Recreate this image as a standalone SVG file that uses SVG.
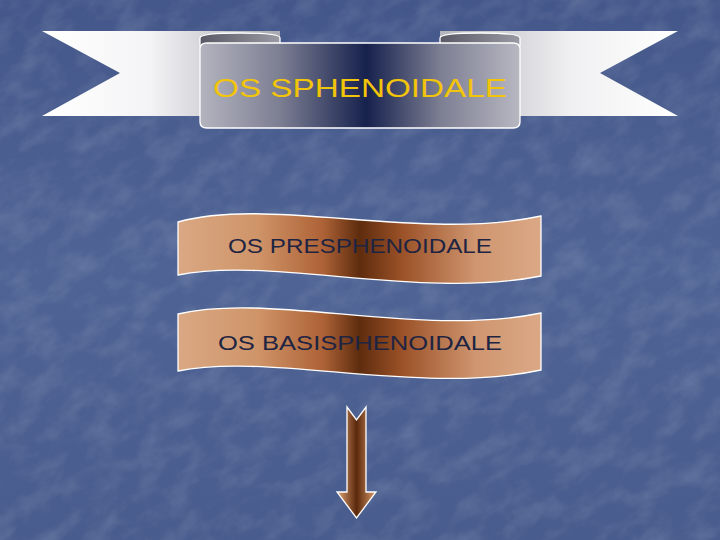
<svg xmlns="http://www.w3.org/2000/svg" width="720" height="540" viewBox="0 0 720 540">
<defs>
<style>
.outline{stroke:#ffffff;stroke-width:1.3;}
.lbl{font-family:"Liberation Sans","DejaVu Sans",sans-serif;}
</style>
<linearGradient id="bg" x1="0" y1="0" x2="0" y2="1">
<stop offset="0" stop-color="#44578a"/>
<stop offset="0.5" stop-color="#4f6495"/>
<stop offset="1" stop-color="#485c8d"/>
</linearGradient>
<filter id="tex" x="0" y="0" width="100%" height="100%">
<feTurbulence type="fractalNoise" baseFrequency="0.03 0.05" numOctaves="4" seed="7" result="n"/>
<feColorMatrix in="n" type="matrix" values="0 0 0 0 1  0 0 0 0 1  0 0 0 0 1  0 0 0 1.4 -0.55" />
</filter>
<linearGradient id="tailL" x1="42" y1="0" x2="280" y2="0" gradientUnits="userSpaceOnUse">
<stop offset="0" stop-color="#ffffff"/>
<stop offset="0.45" stop-color="#f4f4f6"/>
<stop offset="1" stop-color="#a8a8b2"/>
</linearGradient>
<linearGradient id="tailR" x1="678" y1="0" x2="440" y2="0" gradientUnits="userSpaceOnUse">
<stop offset="0" stop-color="#ffffff"/>
<stop offset="0.45" stop-color="#f0f0f2"/>
<stop offset="1" stop-color="#b4b4bc"/>
</linearGradient>
<linearGradient id="fold" x1="0" y1="0" x2="1" y2="0">
<stop offset="0" stop-color="#5a5a66"/>
<stop offset="1" stop-color="#9a9aa4"/>
</linearGradient>
<linearGradient id="panel" x1="200" y1="0" x2="520" y2="0" gradientUnits="userSpaceOnUse">
<stop offset="0" stop-color="#b4b4bf"/>
<stop offset="0.25" stop-color="#7c7e92"/>
<stop offset="0.52" stop-color="#16214d"/>
<stop offset="0.75" stop-color="#7c7e92"/>
<stop offset="1" stop-color="#b8b8c2"/>
</linearGradient>
<linearGradient id="brown" x1="178" y1="0" x2="541" y2="0" gradientUnits="userSpaceOnUse">
<stop offset="0" stop-color="#d9a884"/>
<stop offset="0.22" stop-color="#cf9468"/>
<stop offset="0.4" stop-color="#ad6236"/>
<stop offset="0.5" stop-color="#5e2c0e"/>
<stop offset="0.62" stop-color="#9c5228"/>
<stop offset="0.82" stop-color="#cf9670"/>
<stop offset="1" stop-color="#dba886"/>
</linearGradient>
<linearGradient id="arrowG" x1="337" y1="0" x2="376" y2="0" gradientUnits="userSpaceOnUse">
<stop offset="0" stop-color="#e2a474"/>
<stop offset="0.5" stop-color="#5a280c"/>
<stop offset="1" stop-color="#dc9c6a"/>
</linearGradient>
</defs>

<rect x="0" y="0" width="720" height="540" fill="url(#bg)"/>
<rect x="-200" y="-200" width="1120" height="940" filter="url(#tex)" opacity="0.16" transform="rotate(-30 360 270)"/>

<g id="title-ribbon">
<polygon points="42,31 280,31 280,116 42,116 120,73" fill="url(#tailL)"/>
<polygon points="678,31 440,31 440,116 678,116 600,73" fill="url(#tailR)"/>
<path class="outline" d="M200,46 L200,38 Q200,33 240,33 Q280,33 280,38 L280,46 Z" fill="url(#fold)"/>
<path class="outline" d="M440,46 L440,38 Q440,33 480,33 Q520,33 520,38 L520,46 Z" fill="url(#fold)"/>
<path class="outline" d="M200,49 Q200,43 207,43 L513,43 Q520,43 520,49 L520,122 Q520,128 513,128 L207,128 Q200,128 200,122 Z" fill="url(#panel)"/>
<text class="lbl" x="360" y="97" text-anchor="middle" font-size="26" fill="#f2c40a" textLength="294" lengthAdjust="spacingAndGlyphs">OS SPHENOIDALE</text>
</g>

<g id="presphenoidale">
<path class="outline" d="M178,222 C270,196 420,242 541,216 L541,276 C420,300 270,256 178,275 Z" fill="url(#brown)"/>
<text class="lbl" x="360" y="253" text-anchor="middle" font-size="20" fill="#1e2442" textLength="264" lengthAdjust="spacingAndGlyphs">OS PRESPHENOIDALE</text>
</g>

<g id="basisphenoidale">
<path class="outline" d="M178,314 C270,292 420,338 541,313 L541,370 C420,396 270,352 178,371 Z" fill="url(#brown)"/>
<text class="lbl" x="360" y="350" text-anchor="middle" font-size="20" fill="#1e2442" textLength="284" lengthAdjust="spacingAndGlyphs">OS BASISPHENOIDALE</text>
</g>

<g id="connectors">
<path class="outline" d="M347,407 L356.5,420 L366,407 L366,492 L376,492 L356.5,518 L337,492 L347,492 Z" fill="url(#arrowG)"/>
</g>
</svg>
